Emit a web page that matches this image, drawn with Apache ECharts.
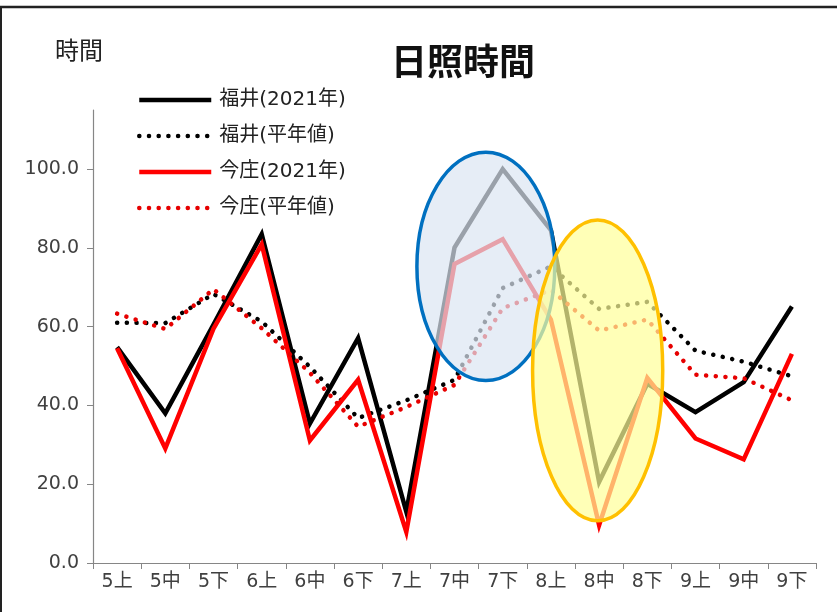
<!DOCTYPE html>
<html>
<head>
<meta charset="utf-8">
<script src="https://cdn.jsdelivr.net/npm/echarts@6/dist/echarts.min.js"></script>
<style>html,body{margin:0;padding:0;background:#fff}#c{width:837px;height:612px}</style>
</head>
<body>
<div id="c"></div>
<script>
const categories = ['5上','5中','5下','6上','6中','6下','7上','7中','7下','8上','8中','8下','9上','9中','9下'];
const fukui2021   = [54.8, 38.0, 60.5, 83.5, 35.4, 57.1, 13.0, 80.1, 100.0, 84.5, 20.6, 45.5, 38.3, 45.9, 65.1];
const fukuiNormal = [61.0, 60.9, 68.3, 61.3, 49.8, 36.8, 41.3, 46.5, 69.8, 75.3, 64.5, 66.3, 53.9, 51.1, 47.4];
const imajo2021   = [54.5, 29.1, 59.5, 80.9, 31.1, 46.5, 7.9, 75.9, 82.2, 61.8, 9.6, 47.0, 31.6, 26.3, 53.1];
const imajoNormal = [63.3, 59.4, 69.5, 59.6, 48.3, 34.6, 39.6, 45.2, 64.7, 69.3, 59.0, 61.8, 47.8, 46.9, 41.3];
const seriesNames = ['福井(2021年)', '福井(平年値)', '今庄(2021年)', '今庄(平年値)'];
const yTicks = [0, 20, 40, 60, 80, 100];
const titleText = '日照時間';
const unitText = '時間';

const FONT = '"Noto Sans CJK JP", "Noto Sans", sans-serif';
const NUMFONT = '"DejaVu Sans", "Noto Sans CJK JP", sans-serif';
const chart = echarts.init(document.getElementById('c'), null, {renderer: 'canvas'});

function solid(color) { return {color: color, width: 4.5, type: 'solid', cap: 'butt', join: 'miter'}; }
function dotted(color) { return {color: color, width: 4.5, type: [0.1, 9.6], cap: 'round'}; }
const styles = [solid('#000'), dotted('#000'), solid('#ff0000'), dotted('#e60000')];

const option = {
  animation: false,
  backgroundColor: '#fff',
  textStyle: {fontFamily: FONT},
  title: [
    {text: titleText, left: 386, top: 38, textStyle: {fontFamily: FONT, fontSize: 36, fontWeight: 'bold', color: '#111'}},
    {text: unitText, left: 50, top: 33, textStyle: {fontFamily: FONT, fontSize: 24, fontWeight: 'normal', color: '#222'}}
  ],
  legend: {
    orient: 'vertical', left: 132, top: 85,
    itemWidth: 72, itemHeight: 14, itemGap: 16,
    itemStyle: {opacity: 0},
    textStyle: {fontFamily: NUMFONT, fontSize: 20, color: '#222', padding: [0, 0, 0, 3]},
    data: seriesNames.map((n, i) => ({name: n, lineStyle: styles[i], itemStyle: {opacity: 0}}))
  },
  grid: {left: 93, right: 21, top: 110, bottom: 49, containLabel: false},
  xAxis: {
    type: 'category', data: categories, boundaryGap: true,
    axisLine: {lineStyle: {color: '#868686', width: 1.2}},
    axisTick: {show: true, length: 6, lineStyle: {color: '#868686'}},
    axisLabel: {fontFamily: NUMFONT, fontSize: 19, color: '#404040', margin: 10}
  },
  yAxis: {
    type: 'value', min: 0, max: 115, interval: 20,
    splitLine: {show: false},
    axisLine: {show: true, lineStyle: {color: '#868686', width: 1.2}},
    axisTick: {show: true, length: 6, lineStyle: {color: '#868686'}, customValues: yTicks},
    axisLabel: {fontFamily: NUMFONT, fontSize: 19, color: '#404040', margin: 14, customValues: yTicks,
      formatter: v => Number(v).toFixed(1)}
  },
  series: [
    {name: seriesNames[0], type: 'line', data: fukui2021, symbol: 'none', lineStyle: styles[0], itemStyle: {color: '#000'}},
    {name: seriesNames[1], type: 'line', data: fukuiNormal, symbol: 'none', lineStyle: styles[1], itemStyle: {color: '#000'}},
    {name: seriesNames[2], type: 'line', data: imajo2021, symbol: 'none', lineStyle: styles[2], itemStyle: {color: '#ff0000'}},
    {name: seriesNames[3], type: 'line', data: imajoNormal, symbol: 'none', lineStyle: styles[3], itemStyle: {color: '#e60000'}}
  ]
};
chart.setOption(option);

// annotation ellipses anchored to the axes
function px(i, v) { return chart.convertToPixel({xAxisIndex: 0, yAxisIndex: 0}, [i, v]); }
const p0 = px(0, 0), p1 = px(1, 100);
const catW = p1[0] - p0[0];
const unitH = (p0[1] - p1[1]) / 100;
const c7 = px(7, 75.3), c10 = px(10, 48.9);
chart.setOption({
  graphic: [
    {type: 'line', shape: {x1: 0, y1: 7, x2: 837, y2: 7}, style: {stroke: '#222', lineWidth: 2.5}, z: 200},
    {type: 'line', shape: {x1: 1, y1: 7, x2: 1, y2: 612}, style: {stroke: '#222', lineWidth: 2}, z: 200},
    {type: 'ellipse', z: 100,
      shape: {cx: c7[0] + 0.65 * catW, cy: c7[1], rx: 1.43 * catW, ry: 29 * unitH},
      style: {fill: 'rgba(220,230,242,0.7)', stroke: '#0070c0', lineWidth: 3.5}},
    {type: 'ellipse', z: 101,
      shape: {cx: c10[0] - 0.03 * catW, cy: c10[1], rx: 1.35 * catW, ry: 38.2 * unitH},
      style: {fill: 'rgba(255,255,153,0.7)', stroke: '#ffc000', lineWidth: 3.5}}
  ]
});
</script>
</body>
</html>
